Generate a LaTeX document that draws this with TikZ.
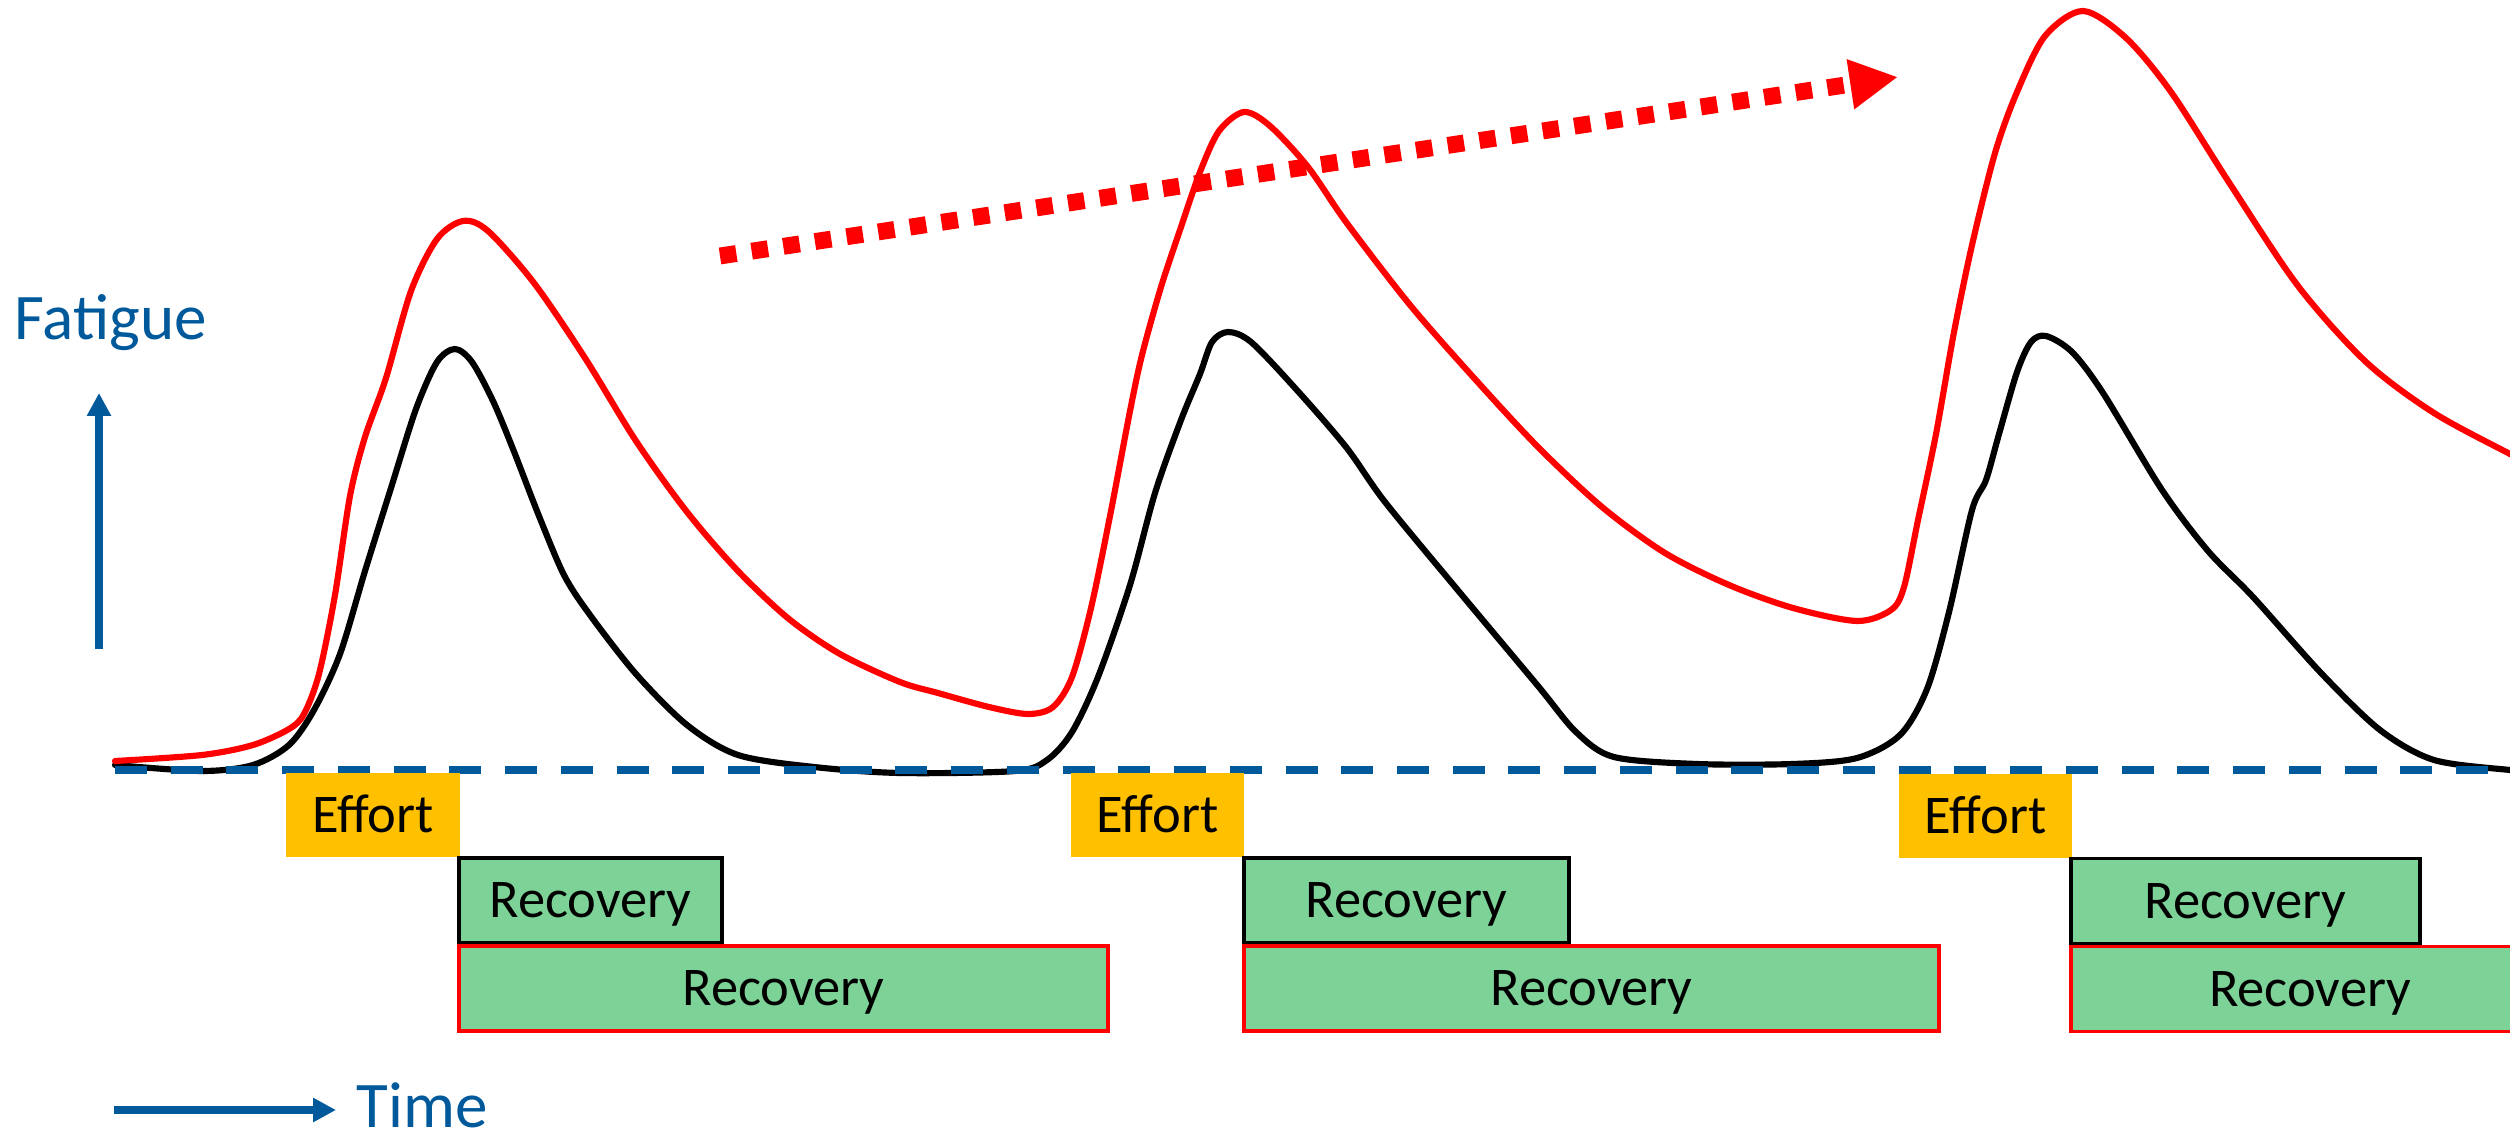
\documentclass[tikz,border=0pt]{standalone}
\usepackage{fontspec}
\setmainfont{Carlito}
\usetikzlibrary{arrows.meta}
\definecolor{axisblue}{HTML}{00599A}
\definecolor{effortfill}{HTML}{FFC000}
\definecolor{recfill}{HTML}{7DD298}
\begin{document}
\begin{tikzpicture}[x=0.01cm,y=-0.01cm,
  curve/.style={line width=1.75pt, line join=round, line cap=round},
  boxtext/.style={font=\fontsize{15.5}{18}\selectfont, text height=9.8pt, text depth=0pt,
                  inner sep=0pt, anchor=center},
  effortbox/.style={boxtext, fill=effortfill, minimum height=0.84cm},
  recblack/.style={boxtext, fill=recfill, draw=black, line width=1pt, minimum height=0.85cm},
  recred/.style={boxtext, fill=recfill, draw=red, line width=1pt, minimum height=0.85cm},
  axislabel/.style={font=\fontsize{18.5}{22}\selectfont, text=axisblue, inner sep=0pt, anchor=base west},
  axisarrow/.style={draw=axisblue, -{Triangle[length=6.5pt,width=6.5pt]}},
  restline/.style={draw=axisblue, line width=2pt, dash pattern=on 9.1pt off 6.75pt},
  trend/.style={draw=red, line width=4.8pt, dash pattern=on 4.7pt off 4.4pt,
                -{Triangle[length=13.7pt,width=13.4pt]}}
]
\useasboundingbox (0,0) rectangle (2510,1134);

% black curve: fatigue with short recovery
\draw[curve, black] plot[smooth, tension=0.5] coordinates {
  (115,765) (202,771) (253,765) (289,745) (314,710) (340,654) (365,571) (391,488)
  (416,409) (437,362) (455,349) (472,362) (493,401) (513,449) (539,516) (564,575)
  (590,615) (636,674) (687,725) (738,755) (814,767) (900,773) (1015,771) (1047,760)
  (1072,732) (1098,677) (1130,585) (1155,493) (1181,420) (1200,374) (1212,342)
  (1228,332) (1251,342) (1295,388) (1346,447) (1385,502) (1461,594) (1538,686)
  (1576,732) (1614,757) (1697,764) (1793,764) (1857,758) (1900,735) (1927,689)
  (1949,612) (1972,510) (1986,480) (1999,434) (2017,372) (2031,342) (2046,336)
  (2072,352) (2103,393) (2162,490) (2208,551) (2253,597) (2321,673) (2380,730)
  (2434,760) (2510,770) (2530,771)};

% red curve: fatigue accumulating with longer recovery
\draw[curve, red] plot[smooth, tension=0.5] coordinates {
  (115,761) (202,755) (253,745) (289,729) (304,714) (319,674) (335,595) (350,496)
  (365,437) (386,378) (411,291) (437,239) (463,221) (488,231) (534,283) (585,358)
  (636,441) (687,512) (738,571) (789,619) (840,654) (900,682) (938,693) (989,707)
  (1028,714) (1053,707) (1072,677) (1091,608) (1110,516) (1130,411) (1142,355)
  (1161,287) (1181,227) (1200,172) (1219,131) (1244,112) (1270,126) (1308,167)
  (1346,222) (1410,305) (1474,378) (1538,447) (1602,507) (1665,553) (1729,585)
  (1793,608) (1857,621) (1891,610) (1904,587) (1918,520) (1936,434) (1954,332)
  (1972,245) (1995,153) (2017,92) (2045,36) (2083,11) (2126,38) (2171,92)
  (2230,184) (2298,286) (2366,362) (2434,413) (2510,454) (2530,464)};

% resting level
\coordinate (restL) at (115,770);
\coordinate (restR) at (2515,770);
\draw[restline] (restL) -- (restR);

% upward trend of the peaks
\coordinate (trendS) at (720,256);
\coordinate (trendE) at (1898,77);
\draw[trend] (trendS) -- (trendE);

% axes
\coordinate (fatFoot) at (99,649);
\coordinate (fatTip) at (99,393);
\draw[axisarrow, line width=2.1pt] (fatFoot) -- (fatTip);
\node[axislabel] (fatigue) at (14,340) {Fatigue};

\coordinate (timeFoot) at (114,1110);
\coordinate (timeTip) at (336,1110);
\draw[axisarrow, line width=2.5pt] (timeFoot) -- (timeTip);
\node[axislabel] (time) at (356,1127) {Time};

% effort phases
\node[effortbox, minimum width=1.74cm] (eff1) at (373,815) {Effort};
\node[effortbox, minimum width=1.73cm] (eff2) at (1157.5,815) {Effort};
\node[effortbox, minimum width=1.73cm] (eff3) at (1985.5,816) {Effort};

% short recovery phases
\node[recblack, minimum width=2.63cm] (recb1) at (590.5,900.5) {Recovery};
\node[recblack, minimum width=3.25cm] (recb2) at (1406.5,900.5) {Recovery};
\node[recblack, minimum width=3.49cm] (recb3) at (2245.5,901) {Recovery};

% long recovery phases
\node[recred, minimum width=6.49cm] (recr1) at (783.5,988.5) {Recovery};
\node[recred, minimum width=6.95cm] (recr2) at (1591.5,988.5) {Recovery};
\node[recred, minimum width=4.78cm] (recr3) at (2310,989) {Recovery};
\end{tikzpicture}
\end{document}
